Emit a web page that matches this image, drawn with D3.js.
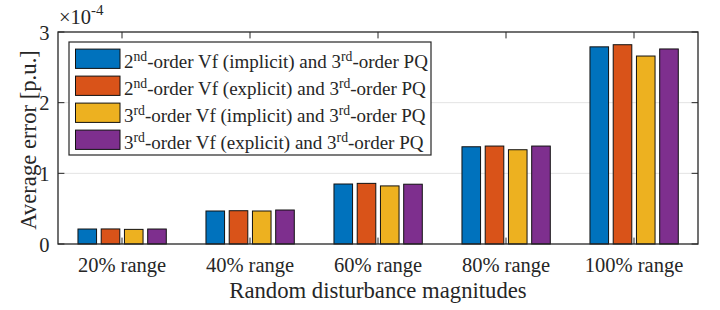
<!DOCTYPE html>
<html>
<head>
<meta charset="utf-8">
<script src="https://cdn.jsdelivr.net/npm/d3@7"></script>
<style>
  body { margin: 0; background: #fff; }
</style>
</head>
<body>
<svg id="canvas" width="720" height="310"></svg>
<script>
// ---------------- data ----------------
let categories = ['20% range', '40% range', '60% range', '80% range', '100% range'];
let yTicks = [0, 1, 2, 3];

// values in units of 1e-4 p.u.
let vfImplicit2 = [0.212, 0.467, 0.849, 1.376, 2.79];
let vfExplicit2 = [0.213, 0.471, 0.858, 1.386, 2.82];
let vfImplicit3 = [0.207, 0.467, 0.822, 1.334, 2.66];
let vfExplicit3 = [0.212, 0.481, 0.846, 1.386, 2.76];

// legend labels, split where superscripts go
let seriesNames = [
  ['2', 'nd', '-order Vf (implicit) and 3', 'rd', '-order PQ'],
  ['2', 'nd', '-order Vf (explicit) and 3', 'rd', '-order PQ'],
  ['3', 'rd', '-order Vf (implicit) and 3', 'rd', '-order PQ'],
  ['3', 'rd', '-order Vf (explicit) and 3', 'rd', '-order PQ']
];
let seriesValues = [vfImplicit2, vfExplicit2, vfImplicit3, vfExplicit3];
let colors = ['#0072BD', '#D95319', '#EDB120', '#7E2F8E'];

// ---------------- layout ----------------
let svg = d3.select('#canvas');
let pLeft = 58, pRight = 698, pTop = 32, pBottom = 244;
let axisColor = '#262626';
let serif = '"Liberation Serif", "Times New Roman", serif';

let x = d3.scaleBand().domain(categories).range([pLeft, pRight]).padding(0);
let groupW = x.bandwidth();
let xInner = d3.scaleBand()
  .domain(d3.range(seriesValues.length))
  .range([groupW * 0.156, groupW * 0.846])
  .paddingInner(0.2).paddingOuter(0);
let y = d3.scaleLinear().domain([0, 3]).range([pBottom, pTop]);

// grid
svg.append('g').selectAll('line')
  .data([1, 2])
  .enter().append('line')
  .attr('x1', pLeft).attr('x2', pRight)
  .attr('y1', d => y(d)).attr('y2', d => y(d))
  .attr('stroke', '#e3e3e3').attr('stroke-width', 1);

// bars
let groups = svg.append('g').selectAll('g')
  .data(categories)
  .enter().append('g')
  .attr('transform', d => 'translate(' + x(d) + ',0)');

groups.selectAll('rect')
  .data((d, i) => seriesValues.map((s, k) => ({ k: k, v: s[i] })))
  .enter().append('rect')
  .attr('x', d => xInner(d.k))
  .attr('width', xInner.bandwidth())
  .attr('y', d => y(d.v))
  .attr('height', d => y(0) - y(d.v))
  .attr('fill', d => colors[d.k])
  .attr('stroke', '#111')
  .attr('stroke-width', 1);

// axes box
svg.append('rect')
  .attr('x', pLeft).attr('y', pTop)
  .attr('width', pRight - pLeft).attr('height', pBottom - pTop)
  .attr('fill', 'none').attr('stroke', axisColor).attr('stroke-width', 1.3);

// ticks (inward)
let tickLen = 6.4;
let xc = categories.map(c => x(c) + groupW / 2);
svg.append('g').selectAll('line')
  .data(xc).enter().append('line')
  .attr('x1', d => d).attr('x2', d => d)
  .attr('y1', pBottom).attr('y2', pBottom - tickLen)
  .attr('stroke', axisColor);
svg.append('g').selectAll('line')
  .data(xc).enter().append('line')
  .attr('x1', d => d).attr('x2', d => d)
  .attr('y1', pTop).attr('y2', pTop + tickLen)
  .attr('stroke', axisColor);
svg.append('g').selectAll('line')
  .data(yTicks).enter().append('line')
  .attr('x1', pLeft).attr('x2', pLeft + tickLen)
  .attr('y1', d => y(d)).attr('y2', d => y(d))
  .attr('stroke', axisColor);
svg.append('g').selectAll('line')
  .data(yTicks).enter().append('line')
  .attr('x1', pRight).attr('x2', pRight - tickLen)
  .attr('y1', d => y(d)).attr('y2', d => y(d))
  .attr('stroke', axisColor);

// tick labels
svg.append('g').selectAll('text')
  .data(categories).enter().append('text')
  .attr('x', d => x(d) + groupW / 2)
  .attr('y', 272)
  .attr('text-anchor', 'middle')
  .attr('font-size', 20.5)
  .attr('fill', axisColor)
  .text(d => d);

svg.append('g').selectAll('text')
  .data(yTicks).enter().append('text')
  .attr('x', 49.5)
  .attr('y', d => y(d) + 7.5)
  .attr('text-anchor', 'end')
  .attr('font-size', 20.5)
  .attr('fill', axisColor)
  .text(d => d);

// exponent
let expo = svg.append('text')
  .attr('x', 59).attr('y', 24)
  .attr('font-size', 20.5)
  .attr('fill', axisColor);
expo.append('tspan').text('\u00d710');
expo.append('tspan').attr('dy', -9).attr('font-size', 15).text('-4');

// axis labels
svg.append('text')
  .attr('x', (pLeft + pRight) / 2).attr('y', 298)
  .attr('text-anchor', 'middle')
  .attr('font-size', 22.7)
  .attr('fill', axisColor)
  .text('Random disturbance magnitudes');

svg.append('text')
  .attr('transform', 'translate(35.5,' + ((pTop + pBottom) / 2 + 2) + ') rotate(-90)')
  .attr('text-anchor', 'middle')
  .attr('font-size', 22.7)
  .attr('fill', axisColor)
  .text('Average error [p.u.]');

// legend
let legend = svg.append('g');
legend.append('rect')
  .attr('x', 69).attr('y', 42)
  .attr('width', 362).attr('height', 113)
  .attr('fill', '#fff')
  .attr('stroke', axisColor).attr('stroke-width', 1.2);

let rows = legend.selectAll('g.row')
  .data(seriesNames).enter().append('g')
  .attr('class', 'row')
  .attr('transform', (d, i) => 'translate(0,' + (58.7 + i * 27) + ')');

rows.append('rect')
  .attr('x', 75.5).attr('y', -9.6)
  .attr('width', 44.5).attr('height', 19.3)
  .attr('fill', (d, i) => colors[i])
  .attr('stroke', '#111').attr('stroke-width', 1);

let lt = rows.append('text')
  .attr('x', 124).attr('y', 9.6)
  .attr('font-size', 19)
  .attr('fill', axisColor);
lt.each(function(parts) {
  let t = d3.select(this);
  t.append('tspan').text(parts[0]);
  t.append('tspan').attr('dy', -7.6).attr('font-size', 13.7).text(parts[1]);
  t.append('tspan').attr('dy', 7.6).text(parts[2]);
  t.append('tspan').attr('dy', -7.6).attr('font-size', 13.7).text(parts[3]);
  t.append('tspan').attr('dy', 7.6).text(parts[4]);
});

// serif font on every text element
svg.selectAll('text, tspan').style('font-family', serif);
</script>
</body>
</html>
